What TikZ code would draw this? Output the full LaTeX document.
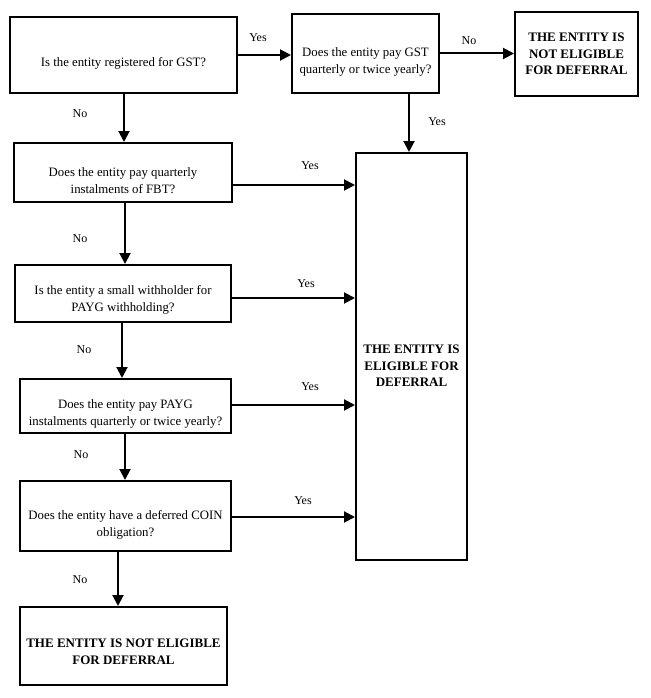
\documentclass[tikz,border=0pt]{standalone}
\usepackage{fontspec}
\setmainfont{Liberation Serif}
\usetikzlibrary{arrows.meta,calc}
\newcommand\pushdown[1]{\rule{0pt}{#1}}
\begin{document}
\begin{tikzpicture}[x=1pt,y=-1pt,
  box/.style={draw=black,line width=2pt,fill=white,align=center,inner sep=2pt,
    font=\fontsize{12.8}{17}\selectfont},
  endbox/.style={box,font=\fontsize{13}{16.5}\selectfont\bfseries},
  arr/.style={line width=2pt,-{Triangle[length=11pt,width=11pt]}},
  lbl/.style={font=\fontsize{12}{14}\selectfont,inner sep=0pt}]
\useasboundingbox[fill=white] (0,0) rectangle (650,698);
% boxes
\node[box,minimum width=227pt,minimum height=76pt] (A) at (123.5,55) {\pushdown{26pt}Is the entity registered for GST?};
\node[box,minimum width=147pt,minimum height=79pt] (B) at (365.5,53.5) {\pushdown{26pt}Does the entity pay GST\\quarterly or twice yearly?};
\node[endbox,minimum width=123pt,minimum height=84pt] (C) at (576.5,54) {THE ENTITY IS\\NOT ELIGIBLE\\FOR DEFERRAL};
\node[box,minimum width=218pt,minimum height=59pt] (D) at (123,172.5) {\pushdown{25pt}Does the entity pay quarterly\\instalments of FBT?};
\node[box,minimum width=216pt,minimum height=57pt] (E) at (123,293.5) {\pushdown{22pt}Is the entity a small withholder for\\PAYG withholding?};
\node[box,minimum width=211pt,minimum height=54pt] (F) at (125.5,406) {\pushdown{24pt}Does the entity pay PAYG\\instalments quarterly or twice yearly?};
\node[box,minimum width=211pt,minimum height=70pt] (G) at (125.5,516) {\pushdown{26pt}Does the entity have a deferred COIN\\obligation?};
\node[endbox,minimum width=207pt,minimum height=78pt] (H) at (123.5,646) {\pushdown{20pt}THE ENTITY IS NOT ELIGIBLE\\FOR DEFERRAL};
\node[endbox,minimum width=111pt,minimum height=407pt] (I) at (411.5,356.5) {\pushdown{28pt}THE ENTITY IS\\ELIGIBLE FOR\\DEFERRAL};
% connectors
\draw[arr] (A.east) -- (A.east -| B.west);
\draw[arr] (B.east) -- (B.east -| C.west);
\draw[arr] ([xshift=43.5pt]B.south) -- ([xshift=43.5pt]B.south |- I.north);
\draw[arr] ([xshift=0.5pt]A.south) -- ([xshift=0.5pt]A.south |- D.north);
\draw[arr] ([xshift=2pt]D.south) -- ([xshift=2pt]D.south |- E.north);
\draw[arr] ([xshift=-1pt]E.south) -- ([xshift=-1pt]E.south |- F.north);
\draw[arr] ([xshift=-0.5pt]F.south) -- ([xshift=-0.5pt]F.south |- G.north);
\draw[arr] ([xshift=-7.5pt]G.south) -- ([xshift=-7.5pt]G.south |- H.north);
\draw[arr] ([yshift=-12.5pt]D.east) -- ([yshift=-12.5pt]D.east -| I.west);
\draw[arr] ([yshift=-4.5pt]E.east) -- ([yshift=-4.5pt]E.east -| I.west);
\draw[arr] ([yshift=1pt]F.east) -- ([yshift=1pt]F.east -| I.west);
\draw[arr] ([yshift=-1pt]G.east) -- ([yshift=-1pt]G.east -| I.west);
% labels
\node[lbl] (l1) at (258,38) {Yes};
\node[lbl] (l2) at (469,41) {No};
\node[lbl] (l3) at (437,122) {Yes};
\node[lbl] (l4) at (80,114) {No};
\node[lbl] (l5) at (80,239) {No};
\node[lbl] (l6) at (84,350) {No};
\node[lbl] (l7) at (81,455) {No};
\node[lbl] (l8) at (80,580) {No};
\node[lbl] (l9) at (310,166) {Yes};
\node[lbl] (l10) at (306,284) {Yes};
\node[lbl] (l11) at (310,387) {Yes};
\node[lbl] (l12) at (303,501) {Yes};
\end{tikzpicture}
\end{document}
